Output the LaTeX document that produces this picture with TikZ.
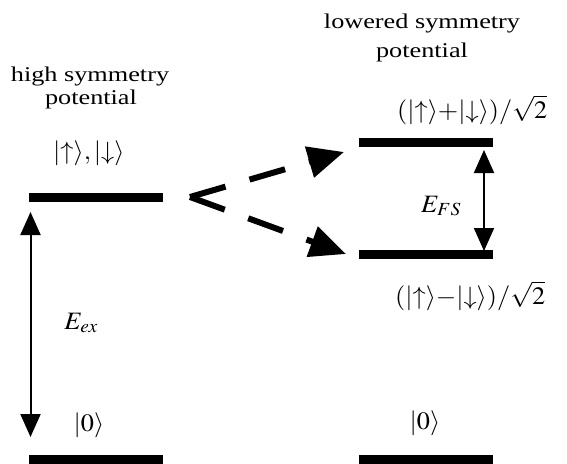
\documentclass[tikz,border=0pt]{standalone}
\usepackage{graphicx}
\usepackage{mathptmx}
\usepackage{fontspec}
\setmainfont{Liberation Serif}
\usetikzlibrary{arrows.meta}
\newcommand\wid[1]{\scalebox{1.25}[1]{#1}}
\newcommand\mwid[1]{\scalebox{1.05}[1]{#1}}
\tikzset{
  level/.style={fill=black, inner sep=0pt, minimum width=134pt, minimum height=9pt},
  lbl/.style={inner sep=0pt, font=\fontsize{21}{24}\selectfont},
  mlbl/.style={inner sep=0pt, font=\fontsize{25}{30}\selectfont},
  gap/.style={{Triangle[length=23pt,width=20pt]}-{Triangle[length=23pt,width=20pt]}, line width=2pt},
  split/.style={line width=6pt, dash pattern=on 37pt off 25pt, -{Triangle[length=36pt,width=31pt]}}
}
\begin{document}
\begin{tikzpicture}[x=1pt,y=-1pt]
\useasboundingbox (0,0) rectangle (567,463);
% levels
\node[level] (hiX) at (96,197.5) {};
\node[level] (hi0) at (96,459) {};
\node[level] (loP) at (425.5,142.5) {};
\node[level] (loM) at (425.5,254.5) {};
\node[level] (lo0) at (425.5,459) {};
% titles
\node[lbl, anchor=base] (t1a) at (90,81) {\wid{high symmetry}};
\node[lbl, anchor=base] (t1b) at (91,104) {\wid{potential}};
\node[lbl, anchor=base] (t2a) at (422,28) {\wid{lowered symmetry}};
\node[lbl, anchor=base] (t2b) at (422,57) {\wid{potential}};
% state labels
\node[mlbl, anchor=west] (kx) at (53,153) {\mwid{$\vert{\uparrow}\rangle,\vert{\downarrow}\rangle$}};
\node[mlbl, anchor=west] (kp) at (397,110) {\mwid{$(\vert{\uparrow}\rangle{+}\vert{\downarrow}\rangle)/\sqrt{2}$}};
\node[mlbl, anchor=west] (km) at (395,296) {\mwid{$(\vert{\uparrow}\rangle{-}\vert{\downarrow}\rangle)/\sqrt{2}$}};
\node[mlbl] (k0a) at (89,425) {\mwid{$\vert 0\rangle$}};
\node[mlbl] (k0b) at (425,423) {\mwid{$\vert 0\rangle$}};
\node[mlbl] (eex) at (81,323) {\mwid{$E_{ex}$}};
\node[mlbl] (efs) at (441,206) {\mwid{$E_{FS}$}};
% energy gaps
\coordinate (exT) at (30.5,212);
\coordinate (exB) at (30.5,437);
\draw[gap] (exT) -- (exB);
\coordinate (fsT) at (484,150);
\coordinate (fsB) at (484,251);
\draw[gap] (fsT) -- (fsB);
% splitting
\coordinate (v) at (190,197);
\coordinate (tu) at (344,152);
\coordinate (tl) at (346,254);
\draw[split] (v) -- (tu);
\draw[split] (v) -- (tl);
\end{tikzpicture}
\end{document}
